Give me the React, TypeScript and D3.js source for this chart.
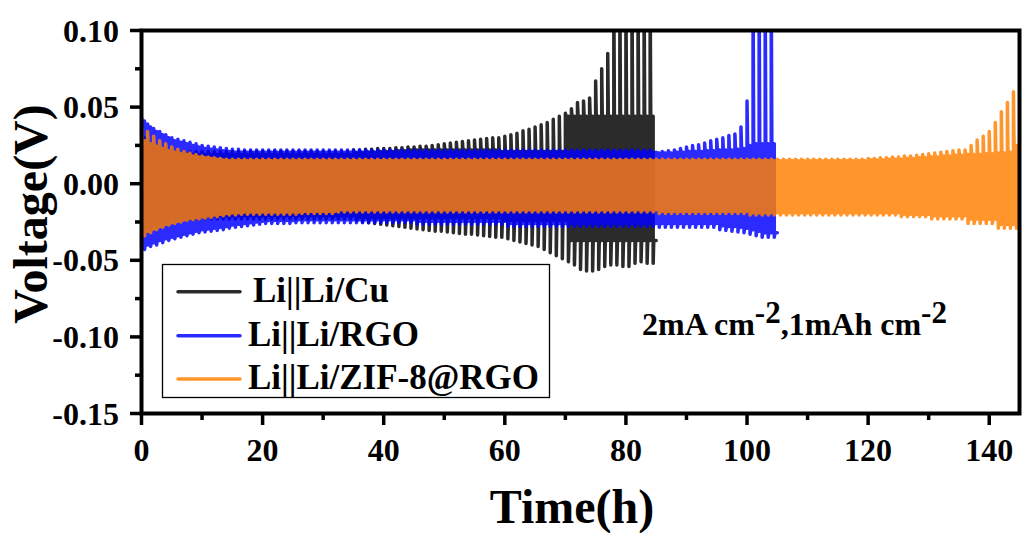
import React from "react";
import * as d3 from "d3";

// ---- data (voltage in mV, one value per 1 h plating/stripping cycle) ----
const cycleHours = 1;

const xTickValues = [0, 20, 40, 60, 80, 100, 120, 140];
const xTickLabels = ["0", "20", "40", "60", "80", "100", "120", "140"];
const xMinorValues = [10, 30, 50, 70, 90, 110, 130];
const yTickValues = [-150, -100, -50, 0, 50, 100];
const yTickLabels = ["-0.15", "-0.10", "-0.05", "0.00", "0.05", "0.10"];
const yMinorValues = [-125, -75, -25, 25, 75];

const seriesNames = ["Li||Li/Cu", "Li||Li/RGO", "Li||Li/ZIF-8@RGO"];
const seriesColors = ["#000000", "#0000ff", "#ff8000"];

// Li||Li/Cu (85 cycles)
const cuHiPeak = [
  32, 28, 26, 24.5, 23, 22, 21.5, 21, 21, 21,
  21, 21, 21, 21, 21, 21, 21, 21, 21, 21,
  21, 21, 21, 21, 21, 21, 21, 21, 21, 21,
  21, 21, 21, 21, 21, 22, 22, 22.5, 22.5, 23,
  23, 23, 23.5, 23.5, 24, 24, 24.5, 24.5, 25, 25.5,
  26, 26.5, 27, 27.5, 28, 28.5, 29, 29.5, 30, 30,
  31, 32, 33, 34.5, 35.5, 37, 38.5, 40, 42, 44,
  46, 49, 53, 54, 56, 67, 75, 85, 130, 130,
  130, 130, 130, 130, 130,
];
const cuHiPlat = [
  30, 26, 24, 22.5, 21, 20, 19.5, 19, 19, 19,
  19, 19, 19, 19, 19, 19, 19, 19, 19, 19,
  19, 19, 19, 19, 19, 19, 19, 19, 19, 19,
  19, 19, 19, 19, 19, 20, 20, 20.5, 20.5, 21,
  21, 21, 21.5, 21.5, 22, 22, 22, 22, 22, 22,
  22, 22, 22, 22, 22, 22, 22, 22, 22, 21,
  21, 21, 21, 21, 21, 21, 21, 21, 21, 21,
  44, 44, 44, 44, 44, 44, 44, 44, 44, 44,
  44, 44, 44, 44, 44,
];
const cuLoPeak = [
  -32, -30, -28.5, -27, -26, -25, -24.5, -24, -23.5, -23,
  -23, -23, -23, -23, -23, -23, -23, -23, -23, -23,
  -23, -23, -23, -23, -23, -23, -23, -23, -23, -23,
  -23, -23, -23, -23, -23, -24, -25, -25.5, -26, -26.5,
  -27, -27.5, -28, -28.5, -29, -29.5, -30, -30.5, -31, -31,
  -31.5, -32, -32.5, -33, -33, -33.5, -34, -34.5, -35, -35,
  -36, -37, -38, -39, -40, -41, -43, -45, -47, -49,
  -51, -53, -56, -57, -57, -56, -54, -53, -53, -54,
  -54, -52, -51, -52, -52,
];
const cuLoPlat = [
  -29, -27, -26, -25, -24, -23, -22.5, -22, -21.5, -21,
  -21, -21, -21, -21, -21, -21, -21, -21, -21, -21,
  -21, -21, -21, -21, -21, -21, -21, -21, -21, -21,
  -21, -21, -21, -21, -21, -22, -22, -22, -22, -22,
  -22, -22, -22, -22, -22, -22, -22, -22, -22, -22,
  -22, -22, -22, -22, -22, -22, -22, -22, -22, -24,
  -24, -24, -24, -24, -24, -24, -24, -24, -24, -24,
  -37, -37, -37, -37, -37, -37, -37, -37, -37, -37,
  -37, -37, -37, -37, -37,
];

// Li||Li/RGO (105 cycles)
const rgoHiPeak = [
  43, 39, 36, 34, 32, 30, 29, 28, 27, 26,
  25, 24.5, 24, 23.5, 23, 22.5, 22.5, 22, 22, 22,
  22, 22, 22, 22, 22, 22, 22, 22, 22, 22,
  22, 22, 22, 22, 22, 22, 22, 22, 22, 22,
  22, 22, 22, 22, 22, 22, 22, 22, 22, 22,
  22, 22, 22, 22, 22, 22, 22, 22, 22, 22,
  22, 22, 22, 22, 22, 22, 22, 22, 22, 22,
  22, 22, 22, 22, 22, 22, 22, 22, 22, 22,
  22, 22, 22, 22, 22, 20.5, 21, 21.5, 22, 23,
  24, 25, 25.5, 26.5, 28, 29, 30, 31.5, 32.5, 37,
  54, 130, 130, 130, 130,
];
const rgoHiPlat = [
  41, 37, 34, 32, 30, 28, 27, 26, 25, 24,
  23, 22.5, 22, 21.5, 21, 20.5, 20.5, 20.5, 20.5, 20.5,
  20.5, 20.5, 20.5, 20.5, 20.5, 20.5, 20.5, 20.5, 20.5, 20.5,
  20.5, 20.5, 20.5, 20.5, 20.5, 20.5, 20.5, 20.5, 20.5, 20.5,
  20.5, 20.5, 20.5, 20.5, 20.5, 20.5, 20.5, 20.5, 20.5, 20.5,
  20.5, 20.5, 20.5, 20.5, 20.5, 20.5, 20.5, 20.5, 20.5, 20.5,
  20.5, 20.5, 20.5, 20.5, 20.5, 20.5, 20.5, 20.5, 20.5, 20.5,
  20.5, 20.5, 20.5, 20.5, 20.5, 20.5, 20.5, 20.5, 20.5, 20.5,
  20.5, 20.5, 20.5, 20.5, 20.5, 20, 20, 20, 20.5, 20.5,
  21, 21, 21, 21.5, 21.5, 22, 22, 22, 22.5, 23,
  25, 26, 26, 26, 26,
];
const rgoLoPeak = [
  -43, -41, -40, -38.5, -37, -36, -35, -34, -33, -32,
  -31.5, -31, -30.5, -30, -29, -28.5, -28, -27.5, -27, -26.5,
  -26, -26, -26, -26, -26, -25.5, -25.5, -25.5, -25.5, -25.5,
  -25.5, -25.5, -25.5, -25.5, -25.5, -25.5, -25.5, -25.5, -25.5, -25.5,
  -25.5, -25.5, -25.5, -25.5, -25.5, -26.5, -26.5, -26.5, -26.5, -26.5,
  -26.5, -26.5, -26.5, -26.5, -26.5, -26.5, -26.5, -26.5, -26.5, -26.5,
  -28, -28, -28, -28, -28, -28, -28, -28, -28, -28,
  -28, -28, -28, -28, -28, -28, -28, -28, -28, -28,
  -28, -28, -28, -28, -28, -28.5, -28.5, -28.5, -28.5, -28.5,
  -28.5, -28.5, -28.5, -28.5, -28.5, -30, -30.5, -31, -31.5, -32,
  -33, -34, -35, -35, -35,
];
const rgoLoPlat = [
  -40, -38.5, -37, -36, -35, -34, -33, -32, -31, -30,
  -29.5, -29, -28.5, -28, -27, -26.5, -26, -25.5, -25, -24.5,
  -24, -24, -24, -24, -24, -23.5, -23.5, -23.5, -23.5, -23.5,
  -23.5, -23.5, -23.5, -23.5, -23.5, -23.5, -23.5, -23.5, -23.5, -23.5,
  -23.5, -23.5, -23.5, -23.5, -23.5, -24.5, -24.5, -24.5, -24.5, -24.5,
  -24.5, -24.5, -24.5, -24.5, -24.5, -24.5, -24.5, -24.5, -24.5, -24.5,
  -26, -26, -26, -26, -26, -26, -26, -26, -26, -26,
  -26, -26, -26, -26, -26, -26, -26, -26, -26, -26,
  -26, -26, -26, -26, -26, -26, -26, -26, -26, -26,
  -26, -26, -26, -26, -26, -27.5, -28, -28, -28.5, -29,
  -30, -31, -32, -32, -32,
];

// Li||Li/ZIF-8@RGO (145 cycles)
const zifHiPeak = [
  37, 34, 31, 28, 26, 24, 22.5, 21, 20, 19,
  18, 17.5, 17, 16.5, 16, 16, 16, 16, 16, 16,
  16, 16, 16, 16, 16, 16, 16, 16, 16, 16,
  16, 16, 16, 16, 16, 16, 16, 16, 16, 16,
  16, 16, 16, 16, 16, 16, 16, 16, 16, 16,
  16, 16, 16, 16, 16, 16, 16, 16, 16, 16,
  16, 16, 16, 16, 16, 16, 16, 16, 16, 16,
  16, 16, 16, 16, 16, 16, 16, 16, 16, 16,
  16, 16, 16, 16, 16, 16, 16, 16, 16, 16,
  16, 16, 16, 16, 16, 16, 16, 16, 16, 16,
  16, 16, 16, 16, 16, 16, 16, 16, 16, 16,
  16, 16, 16, 16, 16, 16, 16, 16, 16, 16,
  16.5, 16.5, 17, 17, 17.5, 17.5, 18, 18, 18.5, 19,
  19.5, 20, 20.5, 21, 21.5, 22, 22, 25, 28.5, 31,
  34, 40, 47, 53, 60,
];
const zifHiPlat = [
  28, 26, 24.5, 23, 21.5, 20.5, 19.5, 19, 18, 17.5,
  17, 16.5, 16, 15.5, 15, 15, 15, 15, 15, 15,
  15, 15, 15, 15, 15, 15, 15, 15, 15, 15,
  15, 15, 15, 15, 15, 15, 15, 15, 15, 15,
  15, 15, 15, 15, 15, 15, 15, 15, 15, 15,
  15, 15, 15, 15, 15, 15, 15, 15, 15, 15,
  15, 15, 15, 15, 15, 15, 15, 15, 15, 15,
  15, 15, 15, 15, 15, 15, 15, 15, 15, 15,
  15, 15, 15, 15, 15, 15, 15, 15, 15, 15,
  15, 15, 15, 15, 15, 15, 15, 15, 15, 15,
  15, 15, 15, 15, 15, 15, 15, 15, 15, 15,
  15, 15, 15, 15, 15, 15, 15, 15, 15, 15,
  15.5, 15.5, 15.5, 16, 16, 16, 16.5, 16.5, 17, 17,
  17.5, 17.5, 18, 18, 18.5, 18.5, 19, 19, 19, 19.5,
  19.5, 20, 20, 20.5, 25,
];
const zifLoPeak = [
  -34, -32, -30, -28.5, -27, -26, -25, -24, -23.5, -23,
  -22.5, -22, -21.5, -21, -20.5, -20.5, -20, -20, -20, -20,
  -20, -20, -20, -20, -20, -20, -19.5, -19.5, -19.5, -19.5,
  -19.5, -19.5, -18.5, -18.5, -18.5, -18.5, -18.5, -18.5, -18.5, -18.5,
  -18.5, -18.5, -18.5, -18.5, -18.5, -18.5, -18.5, -18.5, -18.5, -18.5,
  -18.5, -18.5, -18.5, -18.5, -18.5, -18.5, -18.5, -18.5, -18.5, -18.5,
  -18.5, -18.5, -18.5, -18.5, -18.5, -18.5, -18.5, -18.5, -18.5, -18.5,
  -18.5, -18.5, -18.5, -18.5, -18.5, -18.5, -18.5, -18.5, -18.5, -18.5,
  -18.5, -18.5, -18.5, -18.5, -18.5, -19.5, -19.5, -19.5, -19.5, -19.5,
  -19.5, -19.5, -19.5, -19.5, -19.5, -19.5, -19.5, -19.5, -19.5, -19.5,
  -20.5, -20.5, -20.5, -20.5, -20.5, -20.5, -20.5, -20.5, -20.5, -20.5,
  -20.5, -20.5, -20.5, -20.5, -20.5, -20.5, -20.5, -20.5, -20.5, -20.5,
  -20.5, -20.5, -20.5, -20.5, -20.5, -21.5, -21.5, -21.5, -21.5, -21.5,
  -23, -23, -23, -23, -23, -23, -26, -26, -26, -26,
  -26, -29, -29, -29, -29,
];
const zifLoPlat = [
  -31, -29.5, -28, -26.5, -25.5, -24.5, -23.5, -22.5, -22, -21.5,
  -21, -20.5, -20, -19.5, -19, -19, -18.5, -18.5, -18.5, -18.5,
  -18.5, -18.5, -18.5, -18.5, -18.5, -18.5, -18, -18, -18, -18,
  -18, -18, -17, -17, -17, -17, -17, -17, -17, -17,
  -17, -17, -17, -17, -17, -17, -17, -17, -17, -17,
  -17, -17, -17, -17, -17, -17, -17, -17, -17, -17,
  -17, -17, -17, -17, -17, -17, -17, -17, -17, -17,
  -17, -17, -17, -17, -17, -17, -17, -17, -17, -17,
  -17, -17, -17, -17, -17, -18, -18, -18, -18, -18,
  -18, -18, -18, -18, -18, -18, -18, -18, -18, -18,
  -19, -19, -19, -19, -19, -19, -19, -19, -19, -19,
  -19, -19, -19, -19, -19, -19, -19, -19, -19, -19,
  -19, -19, -19, -19, -19, -20, -20, -20, -20, -20,
  -21, -21, -21, -21, -21, -21, -23, -23, -23, -23,
  -23, -26.5, -26.5, -26.5, -26.5,
];

const seriesData = [
  [cuHiPeak, cuHiPlat, cuLoPeak, cuLoPlat],
  [rgoHiPeak, rgoHiPlat, rgoLoPeak, rgoLoPlat],
  [zifHiPeak, zifHiPlat, zifLoPeak, zifLoPlat],
];

const FONT = '"Liberation Serif", "Times New Roman", Times, serif';

function cyclePoints(hiPk: number[], hiPl: number[], loPk: number[], loPl: number[]) {
  const pts: [number, number][] = [];
  const h = cycleHours;
  for (let i = 0; i < hiPk.length; i++) {
    const t = i * h;
    pts.push([t, hiPk[i]]);
    pts.push([t + 0.1 * h, hiPl[i]]);
    pts.push([t + 0.5 * h, hiPl[i]]);
    pts.push([t + 0.5 * h, loPk[i]]);
    pts.push([t + 0.6 * h, loPl[i]]);
    pts.push([t + h, loPl[i]]);
  }
  return pts;
}

export default function App() {
  const W = 1022;
  const H = 533;
  const x = d3.scaleLinear().domain([0, 145]).range([141.5, 1019.5]);
  const y = d3.scaleLinear().domain([-150, 100]).range([413.5, 30.5]);
  const line = d3
    .line<[number, number]>()
    .x((d) => x(d[0]))
    .y((d) => y(d[1]));

  const [x0, x1] = x.range();
  const [yb, yt] = y.range();

  const legendY = [291.7, 335.7, 379];
  const legendTextX = [253, 248, 248];

  return (
    <svg
      width={W}
      height={H}
      style={{ position: "absolute", left: 0, top: 0, background: "#fff" }}
      fontFamily={FONT}
      fontWeight="bold"
    >
      <defs>
        <clipPath id="plotClip">
          <rect x={x0} y={yt} width={x1 - x0} height={yb - yt} />
        </clipPath>
      </defs>
      <rect x={0} y={0} width={W} height={H} fill="#fff" />

      <g clipPath="url(#plotClip)">
        {seriesData.map((s, k) => (
          <path
            key={k}
            d={line(cyclePoints(s[0], s[1], s[2], s[3])) || ""}
            fill="none"
            stroke={seriesColors[k]}
            strokeOpacity={0.83}
            strokeWidth={3.5}
            strokeLinejoin="round"
            strokeLinecap="round"
          />
        ))}
      </g>

      {/* frame */}
      <rect x={x0} y={yt} width={x1 - x0} height={yb - yt} fill="none" stroke="#000" strokeWidth={4} />

      {/* y ticks */}
      {yTickValues.map((v, i) => (
        <g key={"yt" + i}>
          <line x1={x0 - 11.5} x2={x0} y1={y(v)} y2={y(v)} stroke="#000" strokeWidth={3.5} />
          <text x={119} y={y(v) + 11} textAnchor="end" fontSize={32} fill="#000">
            {yTickLabels[i]}
          </text>
        </g>
      ))}
      {yMinorValues.map((v, i) => (
        <line key={"ym" + i} x1={x0 - 6.5} x2={x0} y1={y(v)} y2={y(v)} stroke="#000" strokeWidth={3.5} />
      ))}

      {/* x ticks */}
      {xTickValues.map((v, i) => (
        <g key={"xt" + i}>
          <line x1={x(v)} x2={x(v)} y1={yb} y2={yb + 11.5} stroke="#000" strokeWidth={3.5} />
          <text x={x(v)} y={461} textAnchor="middle" fontSize={32} fill="#000">
            {xTickLabels[i]}
          </text>
        </g>
      ))}
      {xMinorValues.map((v, i) => (
        <line key={"xm" + i} x1={x(v)} x2={x(v)} y1={yb} y2={yb + 6.5} stroke="#000" strokeWidth={3.5} />
      ))}

      {/* axis titles */}
      <text x={572} y={523} textAnchor="middle" fontSize={48} fill="#000">
        Time(h)
      </text>
      <text transform="translate(47,214) rotate(-90)" textAnchor="middle" fontSize={48} fill="#000">
        Voltage(V)
      </text>

      {/* legend */}
      <rect x={162.5} y={264.5} width={387} height={133} fill="#fff" stroke="#000" strokeWidth={1.3} />
      {seriesNames.map((n, k) => (
        <g key={"lg" + k}>
          <line
            x1={178}
            x2={240}
            y1={legendY[k]}
            y2={legendY[k]}
            stroke={seriesColors[k]}
            strokeOpacity={0.83}
            strokeWidth={3.5}
            strokeLinecap="round"
          />
          <text x={legendTextX[k]} y={legendY[k] + 10} fontSize={35} fill="#000">
            {n}
          </text>
        </g>
      ))}

      {/* annotation */}
      <text x={642} y={335} fontSize={32} fill="#000">
        2mA cm
        <tspan dy={-12} fontSize={31}>-2</tspan>
        <tspan dy={12}>,1mAh cm</tspan>
        <tspan dy={-12} fontSize={31}>-2</tspan>
      </text>
    </svg>
  );
}
